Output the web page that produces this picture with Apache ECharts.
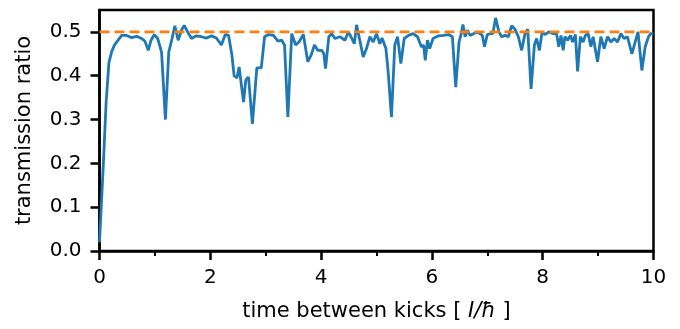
<!DOCTYPE html>
<html>
<head>
<meta charset="utf-8">
<script src="https://cdn.jsdelivr.net/npm/echarts@6/dist/echarts.min.js"></script>
<style>
  html, body { margin: 0; padding: 0; background: #fff; }
  #chart { width: 680px; height: 329px; }
</style>
</head>
<body>
<div id="chart"></div>
<script>
// time between kicks (x) and transmission ratio (y)
const kickTimes = [
  0.00, 0.07, 0.12, 0.17, 0.22, 0.27, 0.33, 0.40, 0.49, 0.58, 0.67, 0.76, 0.82, 0.88, 0.93, 0.99,
  1.05, 1.12, 1.19, 1.25, 1.31, 1.36, 1.42, 1.48, 1.53, 1.59, 1.66, 1.75, 1.84, 1.93, 2.02, 2.11,
  2.20, 2.27, 2.33, 2.39, 2.43, 2.48, 2.52, 2.55, 2.60, 2.64, 2.69, 2.76, 2.84, 2.92, 2.98, 3.05,
  3.14, 3.22, 3.29, 3.34, 3.40, 3.47, 3.54, 3.60, 3.68, 3.76, 3.82, 3.88, 3.94, 4.01, 4.05, 4.08,
  4.14, 4.19, 4.25, 4.34, 4.43, 4.49, 4.54, 4.60, 4.64, 4.70, 4.76, 4.82, 4.88, 4.94, 5.00, 5.06,
  5.10, 5.17, 5.21, 5.27, 5.33, 5.38, 5.44, 5.50, 5.58, 5.66, 5.74, 5.81, 5.85, 5.88, 5.92, 5.96,
  6.02, 6.12, 6.21, 6.30, 6.37, 6.43, 6.49, 6.53, 6.56, 6.60, 6.64, 6.69, 6.75, 6.81, 6.87, 6.91,
  6.95, 7.00, 7.06, 7.10, 7.15, 7.21, 7.26, 7.32, 7.38, 7.44, 7.50, 7.56, 7.62, 7.68, 7.73, 7.79,
  7.85, 7.89, 7.94, 7.99, 8.04, 8.11, 8.19, 8.25, 8.29, 8.33, 8.37, 8.40, 8.45, 8.50, 8.54, 8.59,
  8.63, 8.68, 8.73, 8.77, 8.82, 8.87, 8.91, 8.99, 9.05, 9.11, 9.17, 9.23, 9.29, 9.35, 9.41, 9.47,
  9.53, 9.61, 9.67, 9.72, 9.79, 9.85, 9.91, 9.95, 10.00
];
const transmission = [
  0.020, 0.200, 0.340, 0.430, 0.455, 0.470, 0.480, 0.492, 0.492, 0.487, 0.490, 0.485, 0.479, 0.458, 0.481, 0.494,
  0.485, 0.454, 0.300, 0.454, 0.485, 0.514, 0.481, 0.504, 0.515, 0.500, 0.485, 0.491, 0.489, 0.486, 0.491, 0.486,
  0.470, 0.494, 0.492, 0.447, 0.400, 0.395, 0.420, 0.390, 0.340, 0.390, 0.397, 0.290, 0.418, 0.418, 0.489, 0.494,
  0.492, 0.479, 0.481, 0.470, 0.306, 0.496, 0.470, 0.477, 0.494, 0.432, 0.447, 0.470, 0.458, 0.458, 0.450, 0.416,
  0.489, 0.496, 0.485, 0.489, 0.481, 0.500, 0.489, 0.473, 0.516, 0.480, 0.443, 0.462, 0.489, 0.477, 0.496, 0.473,
  0.486, 0.462, 0.410, 0.306, 0.470, 0.489, 0.428, 0.485, 0.492, 0.496, 0.489, 0.466, 0.470, 0.435, 0.481, 0.462,
  0.485, 0.491, 0.492, 0.494, 0.489, 0.374, 0.477, 0.496, 0.517, 0.489, 0.504, 0.492, 0.496, 0.500, 0.496, 0.492,
  0.466, 0.494, 0.496, 0.496, 0.532, 0.500, 0.489, 0.492, 0.489, 0.514, 0.506, 0.489, 0.458, 0.496, 0.506, 0.370,
  0.470, 0.485, 0.458, 0.500, 0.494, 0.500, 0.496, 0.496, 0.466, 0.492, 0.458, 0.489, 0.481, 0.492, 0.477, 0.494,
  0.410, 0.489, 0.477, 0.492, 0.496, 0.466, 0.489, 0.432, 0.489, 0.462, 0.489, 0.477, 0.485, 0.477, 0.496, 0.485,
  0.489, 0.450, 0.477, 0.500, 0.412, 0.466, 0.489, 0.496, 0.496
];
// classical limit drawn as dashed reference line
const limitX = [0, 10];
const limitValue = 0.5;

const xTickLabels = ['0', '2', '4', '6', '8', '10'];

const font = 'DejaVu Sans';
const axisColor = '#000';

var chart = echarts.init(document.getElementById('chart'));

var lineData = kickTimes.map((t, i) => [t, transmission[i]]);
var limitData = limitX.map(t => [t, limitValue]);

chart.setOption({
    animation: false,
    backgroundColor: '#fff',
    grid: { left: 99.5, right: 26.5, top: 10, bottom: 78, show: true, borderColor: axisColor, borderWidth: 2.5 },
    xAxis: [
        {
            type: 'value',
            min: 0,
            max: 10,
            interval: 2,
            name: 'time between kicks [ {i|I/ħ} ]',
            nameLocation: 'middle',
            nameGap: 50,
            nameTextStyle: {
                fontFamily: font, fontSize: 21, color: '#000',
                rich: { i: { fontFamily: font, fontSize: 21, fontStyle: 'italic', color: '#000' } }
            },
            axisLine: { show: true, onZero: false, lineStyle: { color: axisColor, width: 2.5 } },
            axisTick: { show: true, length: 9, lineStyle: { color: axisColor, width: 2.5 } },
            minorTick: { show: true, splitNumber: 2, length: 5, lineStyle: { color: axisColor, width: 2 } },
            axisLabel: {
                margin: 17, fontFamily: font, fontSize: 20, color: '#000',
                formatter: v => xTickLabels[Math.round(v / 2)]
            },
            splitLine: { show: false }
        }
    ],
    yAxis: [
        {
            type: 'value',
            min: 0,
            max: 0.55,
            interval: 0.1,
            name: 'transmission ratio',
            nameLocation: 'middle',
            nameGap: 64,
            nameTextStyle: { fontFamily: font, fontSize: 21, color: '#000' },
            axisLine: { show: true, onZero: false, lineStyle: { color: axisColor, width: 2.5 } },
            axisTick: { show: true, length: 9, lineStyle: { color: axisColor, width: 2.5 } },
            axisLabel: {
                margin: 18, fontFamily: font, fontSize: 20, color: '#000',
                showMaxLabel: false,
                formatter: v => v.toFixed(1)
            },
            splitLine: { show: false }
        }
    ],
    series: [
        {
            name: 'transmission',
            type: 'line',
            data: lineData,
            showSymbol: false,
            lineStyle: { color: '#1f77b4', width: 2.8 },
            z: 2
        },
        {
            name: 'limit',
            type: 'line',
            data: limitData,
            showSymbol: false,
            lineStyle: { color: '#ff7f0e', width: 2.8, type: [10, 5] },
            z: 3
        }
    ]
});
</script>
</body>
</html>
